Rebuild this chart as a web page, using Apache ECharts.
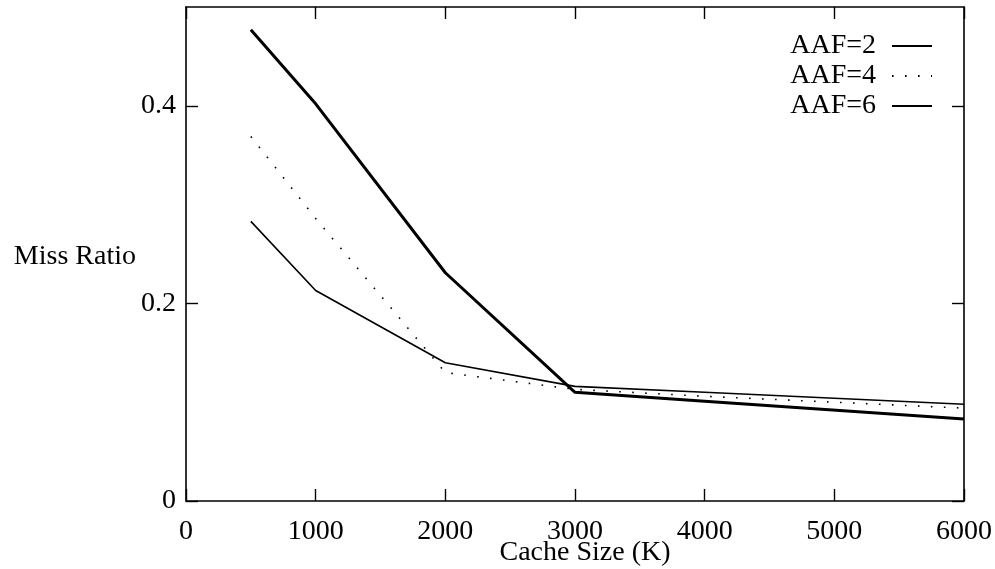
<!DOCTYPE html>
<html>
<head>
<meta charset="utf-8">
<script src="https://cdn.jsdelivr.net/npm/echarts@6/dist/echarts.min.js"></script>
<style>
html,body{margin:0;padding:0;background:#fff;overflow:hidden;}
#chart{width:995px;height:569px;}
</style>
</head>
<body>
<div id="chart"></div>
<script>
var cacheSizes = [500, 1000, 2000, 3000, 4000, 6000];
var aaf2 = [0.283, 0.213, 0.140, 0.116, 0.110, 0.098];
var aaf4 = [0.369, 0.286, 0.130, 0.113, 0.106, 0.094];
var aaf6 = [0.477, 0.402, 0.231, 0.110, 0.101, 0.083];
var seriesNames = ['AAF=2', 'AAF=4', 'AAF=6'];
var xTicks = [0, 1000, 2000, 3000, 4000, 5000, 6000];
var yTicks = [0, 0.2, 0.4];

function pairs(vals) {
  return cacheSizes.map(function (x, i) { return [x, vals[i]]; });
}

var FONT = '"Liberation Serif", "DejaVu Serif", serif';
var axisLine = { show: true, onZero: false, lineStyle: { color: '#000', width: 1.6 } };
var tick = { show: true, inside: true, length: 12, lineStyle: { color: '#000', width: 1.4 } };

var chart = echarts.init(document.getElementById('chart'), null, { renderer: 'canvas' });
chart.setOption({
  animation: false,
  backgroundColor: '#fff',
  textStyle: { fontFamily: FONT },
  grid: { left: 186, right: 31, top: 7, bottom: 68, containLabel: false, outerBoundsMode: 'none' },
  legend: {
    data: seriesNames,
    orient: 'vertical',
    right: 62,
    top: 32,
    padding: 0,
    align: 'right',
    itemWidth: 40,
    itemHeight: 14,
    itemGap: 2,
    itemStyle: { color: 'rgba(0,0,0,0)', borderWidth: 0, opacity: 0 },
    textStyle: { fontFamily: FONT, fontSize: 28, color: '#000', lineHeight: 28, padding: [0, 11, 0, 0] }
  },
  xAxis: [{
    type: 'value', min: 0, max: 6000, interval: 1000, position: 'bottom',
    axisLine: axisLine, axisTick: Object.assign({ customValues: xTicks }, tick), splitLine: { show: false },
    axisLabel: { customValues: xTicks, formatter: function (v) { return String(v); }, fontFamily: FONT, fontSize: 28, color: '#000', margin: 17 },
    name: 'Cache Size (K)', nameLocation: 'middle', nameGap: 38, nameMoveOverlap: false,
    nameTextStyle: { fontFamily: FONT, fontSize: 28, color: '#000', padding: [0, 0, 0, 20] }
  }, {
    type: 'value', min: 0, max: 6000, interval: 1000, position: 'top',
    axisLine: axisLine, axisTick: Object.assign({ customValues: xTicks }, tick),
    axisLabel: { show: false }, splitLine: { show: false }
  }],
  yAxis: [{
    type: 'value', min: 0, max: 0.5, interval: 0.2, position: 'left',
    axisLine: axisLine, axisTick: Object.assign({ customValues: yTicks }, tick), splitLine: { show: false },
    axisLabel: { customValues: yTicks, formatter: function (v) { return String(v); }, fontFamily: FONT, fontSize: 28, color: '#000', margin: 10 },
    name: 'Miss Ratio', nameLocation: 'middle', nameGap: 50, nameRotate: 0, nameMoveOverlap: false,
    nameTextStyle: { fontFamily: FONT, fontSize: 28, color: '#000', align: 'right', verticalAlign: 'top', lineHeight: 6 }
  }, {
    type: 'value', min: 0, max: 0.5, interval: 0.2, position: 'right',
    axisLine: axisLine, axisTick: Object.assign({ customValues: yTicks }, tick),
    axisLabel: { show: false }, splitLine: { show: false }
  }],
  series: [{
    name: seriesNames[0], type: 'line', data: pairs(aaf2), symbol: 'none',
    lineStyle: { color: '#000', width: 1.6, type: 'solid' }, itemStyle: { color: '#000' }
  }, {
    name: seriesNames[1], type: 'line', data: pairs(aaf4), symbol: 'none',
    lineStyle: { color: '#000', width: 1.6, type: [1.6, 11.4] }, itemStyle: { color: '#000' }
  }, {
    name: seriesNames[2], type: 'line', data: pairs(aaf6), symbol: 'none',
    lineStyle: { color: '#000', width: 3, type: 'solid' }, itemStyle: { color: '#000' }
  }]
});
</script>
</body>
</html>
